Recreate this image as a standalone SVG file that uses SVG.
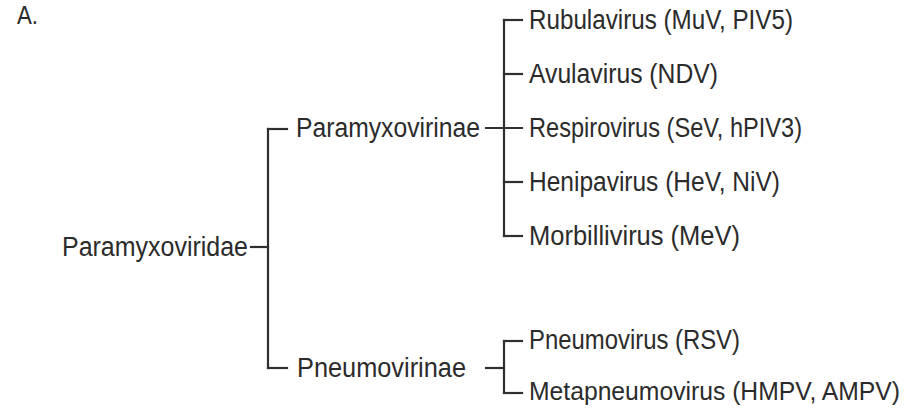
<svg xmlns="http://www.w3.org/2000/svg" width="911" height="414" viewBox="0 0 911 414">
<style>
text{font-family:"Liberation Sans",Arial,sans-serif;font-size:27px;fill:#2b2b2b}
.c line{stroke:#2f2f2f;stroke-width:2.2;stroke-linecap:square;fill:none}
</style>
<rect width="911" height="414" fill="#fff"/>
<text x="17" y="24" style="font-size:25px" textLength="21" lengthAdjust="spacingAndGlyphs">A.</text>
<g id="paramyxoviridae"><text x="62" y="256" textLength="186" lengthAdjust="spacingAndGlyphs">Paramyxoviridae</text></g>
<g id="paramyxovirinae"><text x="296" y="137" textLength="184" lengthAdjust="spacingAndGlyphs">Paramyxovirinae</text></g>
<g id="pneumovirinae"><text x="297" y="377" textLength="169" lengthAdjust="spacingAndGlyphs">Pneumovirinae</text></g>
<g id="rubulavirus"><text x="529" y="29" textLength="264" lengthAdjust="spacingAndGlyphs">Rubulavirus (MuV, PIV5)</text></g>
<g id="avulavirus"><text x="529" y="83" textLength="189" lengthAdjust="spacingAndGlyphs">Avulavirus (NDV)</text></g>
<g id="respirovirus"><text x="529" y="137" textLength="273" lengthAdjust="spacingAndGlyphs">Respirovirus (SeV, hPIV3)</text></g>
<g id="henipavirus"><text x="529" y="191" textLength="251" lengthAdjust="spacingAndGlyphs">Henipavirus (HeV, NiV)</text></g>
<g id="morbillivirus"><text x="529" y="245" textLength="211" lengthAdjust="spacingAndGlyphs">Morbillivirus (MeV)</text></g>
<g id="pneumovirus"><text x="529" y="349" textLength="211" lengthAdjust="spacingAndGlyphs">Pneumovirus (RSV)</text></g>
<g id="metapneumovirus"><text x="529" y="400" style="font-size:26px" textLength="371" lengthAdjust="spacingAndGlyphs">Metapneumovirus (HMPV, AMPV)</text></g>
<g id="connectors" class="c">
<line x1="251" y1="247" x2="268" y2="247"/>
<line x1="268" y1="129" x2="268" y2="368"/>
<line x1="268" y1="129" x2="287" y2="129"/>
<line x1="268" y1="368" x2="287" y2="368"/>
<line x1="486" y1="128" x2="522" y2="128"/>
<line x1="504" y1="20" x2="504" y2="236"/>
<line x1="504" y1="20" x2="522" y2="20"/>
<line x1="504" y1="74" x2="522" y2="74"/>
<line x1="504" y1="182" x2="522" y2="182"/>
<line x1="504" y1="236" x2="522" y2="236"/>
<line x1="486" y1="368" x2="504" y2="368"/>
<line x1="504" y1="341" x2="504" y2="393"/>
<line x1="504" y1="341" x2="522" y2="341"/>
<line x1="504" y1="393" x2="522" y2="393"/>
</g>
</svg>
